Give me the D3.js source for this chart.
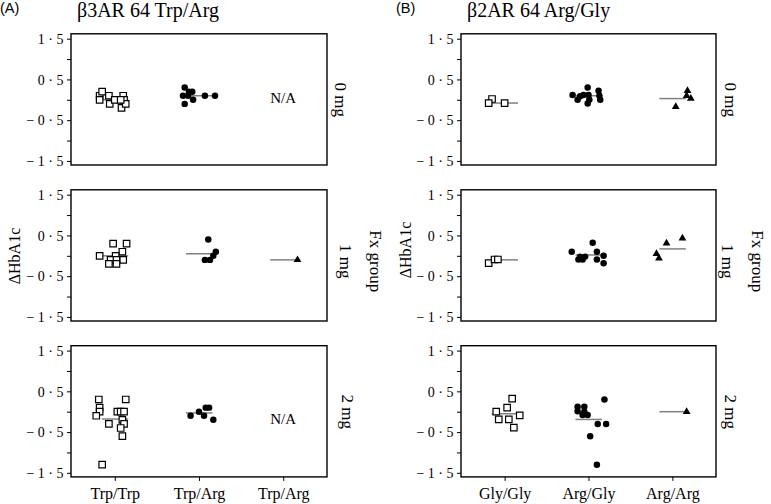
<!DOCTYPE html>
<html><head><meta charset="utf-8">
<script src="https://cdn.jsdelivr.net/npm/d3@7"></script>
<style>
body{margin:0;background:#fff;}
svg text{font-family:"Liberation Serif","Times New Roman",serif;fill:#000;}
</style>
</head><body>
<svg id="c" width="771" height="504"></svg>
<script>
// ---------- data ----------
const doses = ["0 mg", "1 mg", "2 mg"];
const catsA = ["Trp/Trp", "Trp/Arg", "Trp/Arg"];
const catsB = ["Gly/Gly", "Arg/Gly", "Arg/Arg"];
const titles = ["β3AR 64 Trp/Arg", "β2AR 64 Arg/Gly"];
const panelLetters = ["(A)", "(B)"];
const yTickValues = [1.5, 1, 0.5, 0, -0.5, -1, -1.5];
const yTickLabels = ["1·5", "", "0·5", "", "−0·5", "", "−1·5"];
const yLabel = "ΔHbA1c";
const groupLabel = "Fx group";

// points: [category index, horizontal jitter (fraction of category step), ΔHbA1c]
const pointsA0 = [
  [0,-0.18,0.1],[0,-0.18,0.0],[0,-0.15,0.2],[0,-0.07,0.1],[0,-0.06,-0.1],[0,0.0,0.0],
  [0,0.08,-0.2],[0,0.10,0.1],[0,0.11,0.0],[0,0.13,-0.1],[0,0.07,0.0],
  [1,-0.17,0.3],[1,-0.19,0.1],[1,-0.12,0.2],[1,-0.08,0.2],[1,-0.07,0.0],[1,-0.17,-0.1],
  [1,-0.13,0.1],[1,0.07,0.1],[1,0.19,0.1]
];
const pointsA1 = [
  [0,-0.18,0.0],[0,-0.02,0.3],[0,0.14,0.3],[0,0.09,0.1],[0,0.01,0.0],[0,-0.05,-0.1],
  [0,0.02,-0.1],[0,0.10,-0.1],[0,-0.07,-0.2],[0,0.02,-0.2],
  [1,0.11,0.4],[1,0.20,0.1],[1,0.17,0.0],[1,0.13,-0.1],[1,0.07,-0.1],
  [2,0.17,-0.1]
];
const pointsA2 = [
  [0,-0.19,0.3],[0,-0.18,0.1],[0,-0.18,0.0],[0,-0.22,-0.1],[0,-0.07,-0.3],[0,0.13,0.3],
  [0,0.03,0.0],[0,0.07,0.0],[0,0.11,0.0],[0,0.09,-0.2],[0,0.11,-0.3],[0,0.07,-0.4],
  [0,0.09,-0.6],[0,-0.15,-1.3],
  [1,-0.10,-0.1],[1,0.0,0.0],[1,0.06,-0.1],[1,0.08,0.1],[1,0.12,0.1],[1,0.17,-0.2]
];
const pointsB0 = [
  [0,-0.15,0.02],[0,-0.19,-0.08],[0,0.0,-0.08],
  [1,-0.19,0.12],[1,-0.13,0.0],[1,-0.10,0.09],[1,-0.06,0.12],[1,-0.01,0.3],[1,0.0,0.12],
  [1,0.01,0.0],[1,-0.01,-0.09],[1,0.12,0.22],[1,0.13,0.1],[1,0.14,0.0],
  [2,0.04,-0.17],[2,0.18,0.22],[2,0.17,0.1],[2,0.22,0.03]
];
const pointsB1 = [
  [0,-0.19,-0.18],[0,-0.12,-0.09],[0,-0.08,-0.09],
  [1,-0.20,0.1],[1,-0.12,-0.09],[1,-0.10,-0.02],[1,-0.07,-0.09],[1,-0.04,-0.02],
  [1,0.05,0.32],[1,0.10,0.1],[1,0.10,-0.09],[1,0.18,0.0],[1,0.18,-0.18],
  [2,-0.19,0.05],[2,-0.16,-0.06],[2,-0.07,0.31],[2,0.12,0.43]
];
const pointsB2 = [
  [0,0.09,0.32],[0,0.03,0.1],[0,-0.10,0.0],[0,-0.07,-0.19],[0,0.05,-0.19],[0,0.18,-0.09],[0,0.11,-0.39],
  [1,-0.13,0.12],[1,-0.05,0.12],[1,-0.13,0.01],[1,-0.07,-0.08],[1,-0.01,-0.08],[1,-0.05,0.0],
  [1,0.19,0.3],[1,0.11,-0.3],[1,0.21,-0.3],[1,0.02,-0.6],[1,0.10,-1.3],
  [2,0.17,0.0]
];
// medians per category (null = no data)
const mediansA0 = [0.0, 0.1, null];
const mediansA1 = [0.0, 0.05, -0.1];
const mediansA2 = [-0.18, -0.03, null];
const mediansB0 = [-0.08, 0.1, 0.03];
const mediansB1 = [-0.1, 0.02, 0.17];
const mediansB2 = [-0.05, -0.19, 0.0];
// "N/A" notes: [category index, ΔHbA1c position]
const notesA = [[2, -0.07], null, [2, -0.3]];
const notesB = [null, null, null];

// ---------- layout ----------
const svg = d3.select("#c");
const rowTops = [33.8, 189.8, 345.7];
const rowH = 131.2;
const yDomain = [-1.6, 1.62];
const columns = [
  {x0: 71, x1: 327, cats: catsA, pts: [pointsA0, pointsA1, pointsA2], med: [mediansA0, mediansA1, mediansA2], notes: notesA,
   title: titles[0], letter: panelLetters[0], letterX: 0, titleX: 77, tickLabelX: 67,
   doseX: [335, 340, 341.5], groupX: 370, yLabX: 20, yLabY: 256},
  {x0: 461, x1: 716, cats: catsB, pts: [pointsB0, pointsB1, pointsB2], med: [mediansB0, mediansB1, mediansB2], notes: notesB,
   title: titles[1], letter: panelLetters[1], letterX: 396, titleX: 467, tickLabelX: 457,
   doseX: [725, 722, 725], groupX: 752, yLabX: 411, yLabY: 250}
];
const doseDY = [0, 5.5, 0];

const symSquare = d3.symbol().type(d3.symbolSquare).size(42)();
const symCircle = d3.symbol().type(d3.symbolCircle).size(33)();
const symTri = d3.symbol().type(d3.symbolTriangle).size(26)();

columns.forEach(col => {
  const x = d3.scalePoint().domain([0, 1, 2]).range([col.x0, col.x1]).padding(0.52);
  const step = x.step();

  svg.append("text").attr("x", col.letterX).attr("y", 13)
    .style("font-family", "'Liberation Sans', Arial, sans-serif").style("font-size", "14.5px")
    .text(col.letter);
  svg.append("text").attr("x", col.titleX).attr("y", 17).style("font-size", "20px").text(col.title);

  svg.append("text")
    .attr("transform", `translate(${col.yLabX},${col.yLabY}) rotate(-90)`)
    .attr("text-anchor", "middle").style("font-size", "16px").text(yLabel);

  doses.forEach((dose, r) => {
    const top = rowTops[r];
    const y = d3.scaleLinear().domain(yDomain).range([top + rowH, top]);
    const g = svg.append("g");

    // y axis ticks
    const ax = g.append("g").attr("transform", `translate(${col.x0},0)`)
      .call(d3.axisLeft(y).tickValues(yTickValues).tickSize(4).tickPadding(4)
        .tickFormat((d, i) => yTickLabels[i]));
    ax.attr("font-family", null).attr("font-size", null);
    ax.select(".domain").remove();
    ax.selectAll("line").attr("stroke", "#000").attr("stroke-width", 1);
    ax.selectAll("text").attr("x", null).attr("dy", "0.34em")
      .attr("transform", `translate(${col.tickLabelX - col.x0},0)`)
      .attr("font-family", "Liberation Serif")
      .style("font-family", "'Liberation Serif','Times New Roman',serif")
      .attr("font-size", 14).style("font-size", "14px")
      .attr("letter-spacing", "3.5px").attr("fill", "#000");

    // bottom axis on last row
    if (r === 2) {
      const bx = g.append("g").attr("transform", `translate(0,${top + rowH})`)
        .call(d3.axisBottom(x).tickSize(4).tickPadding(7).tickFormat(i => col.cats[i]));
      bx.attr("font-family", null).attr("font-size", null);
      bx.select(".domain").remove();
      bx.selectAll("line").attr("stroke", "#000");
      bx.selectAll("text").style("font-family", "'Liberation Serif','Times New Roman',serif")
        .style("font-size", "16px").attr("fill", "#000");
    }

    // frame
    g.append("rect").attr("x", col.x0).attr("y", top).attr("width", col.x1 - col.x0).attr("height", rowH)
      .attr("fill", "none").attr("stroke", "#000").attr("stroke-width", 1.4);

    // medians
    col.med[r].forEach((m, i) => {
      if (m === null) return;
      g.append("line").attr("x1", x(i) - 0.155 * step).attr("x2", x(i) + 0.16 * step)
        .attr("y1", y(m)).attr("y2", y(m)).attr("stroke", "#808080").attr("stroke-width", 1.5);
    });

    // points
    g.selectAll("path.pt").data(col.pts[r]).enter().append("path").attr("class", "pt")
      .attr("transform", d => `translate(${x(d[0]) + d[1] * step},${y(d[2])})`)
      .attr("d", d => d[0] === 0 ? symSquare : d[0] === 1 ? symCircle : symTri)
      .attr("fill", d => d[0] === 0 ? "#fff" : "#000")
      .attr("stroke", d => d[0] === 0 ? "#000" : "none")
      .attr("stroke-width", 1.2);

    // notes
    const note = col.notes[r];
    if (note) {
      g.append("text").attr("x", x(note[0])).attr("y", y(note[1])).attr("text-anchor", "middle")
        .style("font-size", "15px").text("N/A");
    }

    // right-side dose labels
    const cy = y(0) + doseDY[r];
    g.append("text").attr("transform", `translate(${col.doseX[r]},${cy}) rotate(90)`)
      .attr("text-anchor", "middle").style("font-size", "17px").text(dose);
    if (r === 1) {
      g.append("text").attr("transform", `translate(${col.groupX},${cy}) rotate(90)`)
        .attr("text-anchor", "middle").style("font-size", "17px").text(groupLabel);
    }
  });
});
</script>
</body></html>
